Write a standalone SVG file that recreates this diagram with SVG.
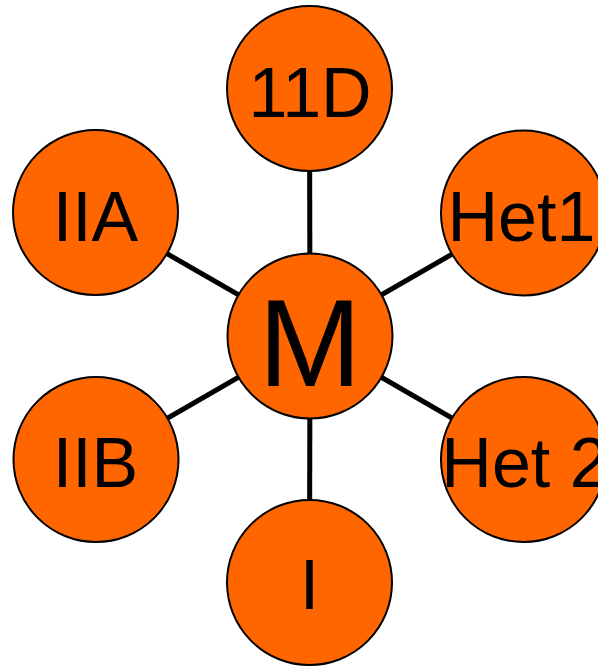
<svg xmlns="http://www.w3.org/2000/svg" width="598" height="666" viewBox="0 0 598 666">
<style>
.edge{stroke:#000;stroke-width:5;fill:none}
.node circle{fill:#FF6600;stroke:#000;stroke-width:2}
.node text{font-family:"Liberation Sans",Arial,sans-serif;font-size:70px;fill:#000;text-anchor:middle}
</style>
<rect width="598" height="666" fill="#fff"/>
<g id="connectors">
<line class="edge" x1="310" y1="336" x2="309.5" y2="88.5"/>
<line class="edge" x1="310" y1="336" x2="95.5" y2="212.5"/>
<line class="edge" x1="310" y1="336" x2="523.5" y2="213"/>
<line class="edge" x1="310" y1="336" x2="96" y2="459.5"/>
<line class="edge" x1="310" y1="336" x2="523.5" y2="459.5"/>
<line class="edge" x1="310" y1="336" x2="309.5" y2="582.5"/>
</g>
<g id="node-11D" class="node"><circle cx="309.5" cy="88.5" r="82.5"/><text x="310" y="117">11D</text></g>
<g id="node-IIA" class="node"><circle cx="95.5" cy="212.5" r="82.5"/><text x="95.5" y="241">IIA</text></g>
<g id="node-Het1" class="node"><circle cx="523.5" cy="213" r="82.5"/><text x="521.5" y="241">Het1</text></g>
<g id="node-M" class="node"><circle cx="310" cy="336" r="82.5"/><text x="310" y="386" style="font-size:124px">M</text></g>
<g id="node-IIB" class="node"><circle cx="96" cy="459.5" r="82.5"/><text x="95.5" y="487">IIB</text></g>
<g id="node-Het2" class="node"><circle cx="523.5" cy="459.5" r="82.5"/><text x="525" y="487">Het 2</text></g>
<g id="node-I" class="node"><circle cx="309.5" cy="582.5" r="82.5"/><text x="309.5" y="609">I</text></g>
</svg>
